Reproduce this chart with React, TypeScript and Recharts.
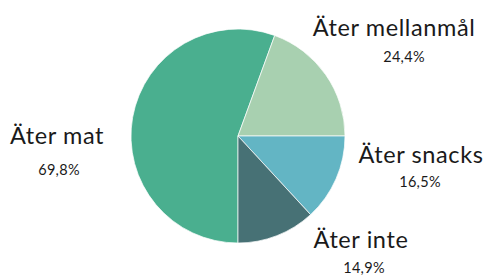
import React from 'react';
import { PieChart, Pie, Cell } from 'recharts';

const categories = ['Äter mat', 'Äter mellanmål', 'Äter snacks', 'Äter inte'];
const values = [69.8, 24.4, 16.5, 14.9];
const colors = ['#4AAF8F', '#A8D0B0', '#63B5C4', '#477175'];

// label layout relative to pie centre (title centre x, title baseline y, percent centre x, percent baseline y)
const labelLayout = [
  [-181, 8, -179, 39],
  [156, -100, 166, -74],
  [183, 27, 182, 51],
  [123, 112, 126, 137],
];

const data = categories.map((name, i) => ({ name, value: values[i] }));

const fmt = (v: number) => v.toFixed(1).replace('.', ',') + '%';

const FONT = 'Lato, "Noto Sans", sans-serif';

const renderLabel = (props: any) => {
  const { cx, cy, index } = props;
  const l = labelLayout[index];
  return (
    <g>
      <text x={cx + l[0]} y={cy + l[1]} textAnchor="middle" fontFamily={FONT} fontWeight={400} fontSize={23.5} letterSpacing={0.6} fill="#1a1a1a">
        {categories[index]}
      </text>
      <text x={cx + l[2]} y={cy + l[3]} textAnchor="middle" fontFamily={FONT} fontWeight={400} fontSize={14.5} letterSpacing={0.3} fill="#1a1a1a">
        {fmt(values[index])}
      </text>
    </g>
  );
};

export default function App() {
  return (
    <div style={{ position: 'absolute', left: 0, top: 0, width: 489, height: 280, background: '#fff' }}>
      <PieChart width={489} height={280} margin={{ top: 0, right: 0, bottom: 0, left: 0 }}>
        <Pie
          data={data}
          dataKey="value"
          nameKey="name"
          cx={238}
          cy={136}
          outerRadius={107}
          startAngle={-90}
          endAngle={-450}
          stroke="#ffffff"
          strokeWidth={0.7}
          label={renderLabel}
          labelLine={false}
          isAnimationActive={false}
        >
          {data.map((d, i) => (
            <Cell key={d.name} fill={colors[i]} />
          ))}
        </Pie>
      </PieChart>
    </div>
  );
}
